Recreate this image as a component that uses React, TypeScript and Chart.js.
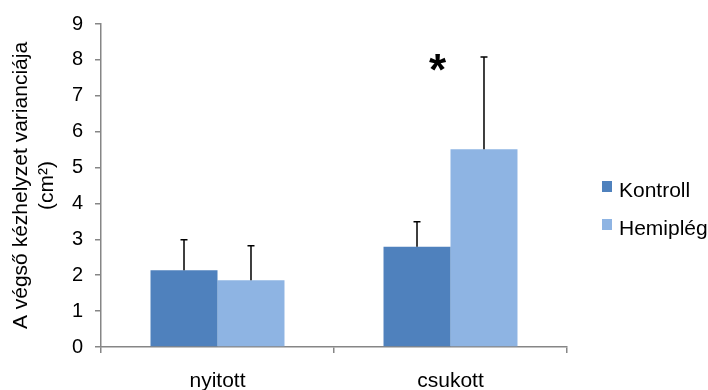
import React, { useEffect, useRef } from "react";
import { Chart, registerables } from "chart.js";

Chart.register(...registerables);

const categories = ["nyitott", "csukott"];
const seriesNames = ["Kontroll", "Hemiplég"];
const kontroll = [2.14, 2.79];
const hemipleg = [1.86, 5.51];
const kontrollErr = [0.85, 0.70];
const hemiplegErr = [0.96, 2.57];
const sigMarks = ["", "*"];
const sigValues = [0, 7.98];
const yTicks = [0, 1, 2, 3, 4, 5, 6, 7, 8, 9];
const yTitle = ["A végső kézhelyzet varianciája", "(cm²)"];

const colors = ["#4F81BD", "#8EB4E3"];
const errors = [kontrollErr, hemiplegErr];
const FONT = "'Liberation Sans', Arial, sans-serif";
const AXIS = "#868686";

const errorBarsPlugin = {
  id: "errorBars",
  afterDatasetsDraw(chart: any) {
    const ctx = chart.ctx;
    const y = chart.scales.y;
    chart.data.datasets.forEach((ds: any, di: number) => {
      const meta = chart.getDatasetMeta(di);
      meta.data.forEach((bar: any, i: number) => {
        const v = ds.data[i];
        const top = y.getPixelForValue(v + errors[di][i]);
        const base = y.getPixelForValue(v);
        ctx.save();
        ctx.strokeStyle = "#000";
        ctx.lineWidth = 1.5;
        ctx.beginPath();
        ctx.moveTo(bar.x, base);
        ctx.lineTo(bar.x, top);
        ctx.moveTo(bar.x - 3.5, top);
        ctx.lineTo(bar.x + 3.5, top);
        ctx.stroke();
        ctx.restore();
      });
    });
  },
};

const sigPlugin = {
  id: "sigMarks",
  afterDatasetsDraw(chart: any) {
    const ctx = chart.ctx;
    const x = chart.scales.x;
    const y = chart.scales.y;
    sigMarks.forEach((m, i) => {
      if (!m) return;
      const px = x.getPixelForValue(i) - 13;
      const py = y.getPixelForValue(sigValues[i]);
      ctx.save();
      ctx.fillStyle = "#000";
      ctx.font = `bold 44px ${FONT}`;
      ctx.textAlign = "center";
      ctx.textBaseline = "alphabetic";
      ctx.fillText(m, px, py + 24);
      ctx.restore();
    });
  },
};

const legendPlugin = {
  id: "customLegend",
  afterDraw(chart: any) {
    const ctx = chart.ctx;
    const left = chart.chartArea.right + 35;
    const baseY = [197, 235];
    ctx.save();
    ctx.font = `21px ${FONT}`;
    ctx.textAlign = "left";
    ctx.textBaseline = "alphabetic";
    seriesNames.forEach((name, i) => {
      ctx.fillStyle = colors[i];
      ctx.fillRect(left, baseY[i] - 16, 10, 11);
      ctx.fillStyle = "#000";
      ctx.fillText(name, left + 17, baseY[i]);
    });
    ctx.restore();
  },
};

export default function App() {
  const ref = useRef<HTMLCanvasElement>(null);
  useEffect(() => {
    if (!ref.current) return;
    const chart = new Chart(ref.current, {
      type: "bar",
      data: {
        labels: categories,
        datasets: [
          { label: seriesNames[0], data: kontroll, backgroundColor: colors[0], categoryPercentage: 0.575, barPercentage: 1 },
          { label: seriesNames[1], data: hemipleg, backgroundColor: colors[1], categoryPercentage: 0.575, barPercentage: 1 },
        ],
      },
      options: {
        responsive: false,
        animation: false,
        events: [],
        layout: { padding: { top: 20, right: 141, left: 0, bottom: 0 } },
        plugins: { legend: { display: false }, tooltip: { enabled: false } },
        scales: {
          x: {
            grid: { display: true, drawOnChartArea: false, drawTicks: true, tickLength: 6, color: AXIS, lineWidth: 1.5, offset: true },
            border: { display: true, color: AXIS, width: 1.5 },
            ticks: { color: "#000", font: { family: FONT, size: 21 }, padding: 16 },
            afterFit: (s: any) => { s.height = 43; },
          },
          y: {
            min: 0,
            max: 9,
            afterBuildTicks: (s: any) => { s.ticks = yTicks.map((v) => ({ value: v })); },
            grid: { display: true, drawOnChartArea: false, drawTicks: true, tickLength: 6, color: AXIS, lineWidth: 1.5 },
            border: { display: true, color: AXIS, width: 1.5 },
            ticks: { color: "#000", font: { family: FONT, size: 20 }, padding: 12 },
            title: { display: true, text: yTitle, color: "#000", font: { family: FONT, size: 21 }, padding: { top: 9, bottom: 0 } },
            afterFit: (s: any) => { s.width = 101; },
          },
        },
      },
      plugins: [errorBarsPlugin, sigPlugin, legendPlugin],
    });
    return () => chart.destroy();
  }, []);
  return (
    <div style={{ position: "fixed", left: 0, top: 0, width: 708, height: 390, background: "#fff" }}>
      <canvas ref={ref} width={708} height={390} />
    </div>
  );
}
